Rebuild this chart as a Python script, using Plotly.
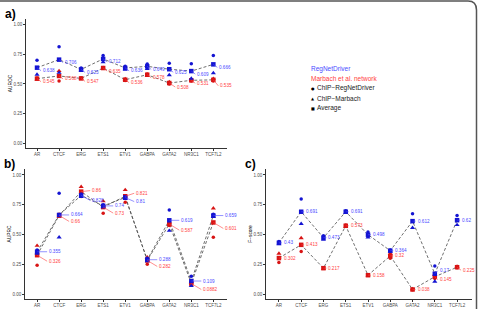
import plotly.graph_objects as go

cats = ["AR", "CTCF", "ERG", "ETS1", "ETV1", "GABPA", "GATA2", "NR3C1", "TCF7L2"]

# Panel a) AUROC
a_rnd_chip = [0.70, 0.816, 0.635, 0.74, 0.65, 0.67, 0.675, 0.672, 0.74]
a_rnd_marb = [0.58, 0.596, 0.611, 0.684, 0.622, 0.628, 0.575, 0.546, 0.592]
a_rnd_avg = [0.638, 0.706, 0.623, 0.712, 0.636, 0.649, 0.625, 0.609, 0.666]
a_mar_chip = [0.55, 0.526, 0.55, 0.64, 0.53, 0.585, 0.50, 0.525, 0.525]
a_mar_marb = [0.54, 0.61, 0.544, 0.63, 0.542, 0.571, 0.516, 0.537, 0.545]
a_mar_avg = [0.545, 0.568, 0.547, 0.635, 0.536, 0.578, 0.508, 0.531, 0.535]

# Panel b) AUPRC
b_rnd_chip = [0.37, 0.846, 0.84, 0.75, 0.82, 0.30, 0.706, 0.15, 0.67]
b_rnd_marb = [0.34, 0.476, 0.816, 0.73, 0.80, 0.276, 0.532, 0.068, 0.648]
b_rnd_avg = [0.355, 0.664, 0.828, 0.74, 0.81, 0.288, 0.619, 0.109, 0.659]
b_mar_chip = [0.241, 0.67, 0.82, 0.678, 0.77, 0.25, 0.575, 0.075, 0.476]
b_mar_marb = [0.406, 0.65, 0.90, 0.78, 0.874, 0.308, 0.60, 0.10, 0.72]
b_mar_avg = [0.326, 0.66, 0.86, 0.73, 0.821, 0.282, 0.587, 0.0882, 0.601]

# Panel c) F-score
c_rnd_chip = [0.44, 0.797, 0.49, 0.70, 0.52, 0.37, 0.675, 0.235, 0.66]
c_rnd_marb = [0.42, 0.59, 0.456, 0.682, 0.476, 0.358, 0.556, 0.105, 0.58]
c_rnd_avg = [0.43, 0.691, 0.473, 0.691, 0.498, 0.364, 0.612, 0.17, 0.62]
c_mar_chip = [0.264, 0.356, 0.22, 0.58, 0.16, 0.30, 0.035, 0.13, 0.22]
c_mar_marb = [0.34, 0.47, 0.214, 0.566, 0.156, 0.34, 0.041, 0.16, 0.23]
c_mar_avg = [0.302, 0.413, 0.217, 0.573, 0.158, 0.32, 0.038, 0.145, 0.225]

y_ticks = [0, 0.25, 0.5, 0.75, 1.0]

W, H = 478, 309
FONT = "Liberation Sans, Arial, sans-serif"
BLUE_M, RED_M = "#1414d2", "#d81414"
BLUE_T, RED_T = "#4a4aff", "#ff4040"
LINE_C = "#4a4a4a"

fig = go.Figure()

# label offsets (pixels): default per panel, plus per-category overrides
panels = [
    dict(ax="", rc=a_rnd_chip, rm=a_rnd_marb, ra=a_rnd_avg, mc=a_mar_chip, mm=a_mar_marb, ma=a_mar_avg,
         off_b=(4, 3), off_r=(4, 3), ov_b={}, ov_r={"GATA2": (6, 4), "TCF7L2": (5, 6)},
         title="AUROC", tag="a)", xdom=(26, 227), ydom=(19, 148), xr=[-0.5, 8.62]),
    dict(ax="2", rc=b_rnd_chip, rm=b_rnd_marb, ra=b_rnd_avg, mc=b_mar_chip, mm=b_mar_marb, ma=b_mar_avg,
         off_b=(10, 0), off_r=(10, 6),
         ov_b={"ERG": (9, 5), "ETV1": (9, 4)}, ov_r={"ERG": (9, -1), "ETV1": (9, -3)},
         title="AUPRC", tag="b)", xdom=(25, 227), ydom=(169, 299), xr=[-0.55, 8.62]),
    dict(ax="3", rc=c_rnd_chip, rm=c_rnd_marb, ra=c_rnd_avg, mc=c_mar_chip, mm=c_mar_marb, ma=c_mar_avg,
         off_b=(3, 0), off_r=(3, 0), ov_b={"NR3C1": (3, -3)}, ov_r={"NR3C1": (3, 3), "TCF7L2": (4, 3)},
         title="F\u2212score", tag="c)", xdom=(266, 472), ydom=(169, 299), xr=[-0.58, 8.67]),
]

annotations = []
for p in panels:
    xa, ya = "x" + p["ax"], "y" + p["ax"]
    for avg in (p["ra"], p["ma"]):
        fig.add_trace(go.Scatter(x=cats, y=avg, mode="lines", xaxis=xa, yaxis=ya,
                                 line=dict(color=LINE_C, width=0.8, dash="3px,2px"),
                                 showlegend=False, hoverinfo="skip"))
    for col, chip, marb, avg in ((RED_M, p["mc"], p["mm"], p["ma"]), (BLUE_M, p["rc"], p["rm"], p["ra"])):
        fig.add_trace(go.Scatter(x=cats, y=chip, mode="markers", xaxis=xa, yaxis=ya,
                                 marker=dict(symbol="circle", size=3.5, color=col), showlegend=False))
        fig.add_trace(go.Scatter(x=cats, y=marb, mode="markers", xaxis=xa, yaxis=ya,
                                 marker=dict(symbol="triangle-up", size=4.5, color=col), showlegend=False))
        fig.add_trace(go.Scatter(x=cats, y=avg, mode="markers", xaxis=xa, yaxis=ya,
                                 marker=dict(symbol="square", size=4.5, color=col), showlegend=False))
    for vals, tcol, off, ov in ((p["ra"], BLUE_T, p["off_b"], p["ov_b"]), (p["ma"], RED_T, p["off_r"], p["ov_r"])):
        for c, v in zip(cats, vals):
            o = ov.get(c, off)
            annotations.append(dict(x=c, y=v, xref=xa, yref=ya, text=f"{v:g}",
                                    showarrow=True, arrowhead=0, arrowwidth=0.6, arrowcolor=tcol,
                                    ax=o[0], ay=o[1], xanchor="left", yanchor="middle",
                                    standoff=0, startstandoff=0,
                                    font=dict(size=4.6, color=tcol, family=FONT)))
    annotations.append(dict(x=(p["xdom"][0] - 23) / W, y=1 - (p["ydom"][0] - 5) / H, xref="paper", yref="paper",
                            text=f"<b>{p['tag']}</b>", showarrow=False, xanchor="left", yanchor="middle",
                            font=dict(size=12, color="black", family=FONT)))

axis_common = dict(showline=True, linecolor="#333333", linewidth=0.8, ticks="outside", ticklen=2,
                   tickwidth=0.6, tickcolor="#333333", showgrid=False, zeroline=False,
                   tickfont=dict(size=4.5, color="#4d4d4d", family=FONT))

layout = dict(width=W, height=H, margin=dict(l=0, r=0, t=0, b=0),
              plot_bgcolor="white", paper_bgcolor="white", showlegend=False,
              font=dict(family=FONT))

for p in panels:
    key = p["ax"]
    x0, x1 = p["xdom"]
    yt, yb = p["ydom"]
    layout["xaxis" + key] = dict(axis_common, domain=[x0 / W, x1 / W], type="category",
                                 categoryorder="array", categoryarray=cats, range=p["xr"],
                                 anchor="y" + key)
    layout["yaxis" + key] = dict(axis_common, domain=[1 - yb / H, 1 - yt / H], range=[-0.042, 1.05],
                                 tickvals=y_ticks, tickformat=".2f", anchor="x" + key,
                                 title=dict(text=p["title"], font=dict(size=4.8, color="black", family=FONT),
                                            standoff=0))

# custom legend
leg_x = 309 / W
for txt, col, py in [("RegNetDriver", BLUE_T, 69), ("Marbach et al. network", RED_T, 78.7)]:
    annotations.append(dict(x=leg_x, y=1 - py / H, xref="paper", yref="paper", text=txt, showarrow=False,
                            xanchor="left", yanchor="middle", font=dict(size=6.5, color=col, family=FONT)))
for sym, txt, py in [("\u25CF", "ChIP\u2212RegNetDriver", 88.3), ("\u25B2", "ChIP\u2212Marbach", 98.3),
                     ("\u25A0", "Average", 108)]:
    annotations.append(dict(x=leg_x, y=1 - py / H, xref="paper", yref="paper", text=sym, showarrow=False,
                            xanchor="left", yanchor="middle", font=dict(size=4, color="black", family="DejaVu Sans")))
    annotations.append(dict(x=314.5 / W, y=1 - py / H, xref="paper", yref="paper", text=txt, showarrow=False,
                            xanchor="left", yanchor="middle", font=dict(size=6.5, color="#1a1a1a", family=FONT)))

layout["annotations"] = annotations
layout["shapes"] = [dict(type="path", xref="paper", yref="paper",
                         path=f"M 0 {1 - 1/H} L {1 - 10/W} {1 - 1/H} Q {1 - 1.5/W} {1 - 1/H} {1 - 1.5/W} {1 - 10/H} L {1 - 1.5/W} 0",
                         line=dict(color="#555555", width=1.5))]

fig.update_layout(**layout)
fig.write_html("out.html")
